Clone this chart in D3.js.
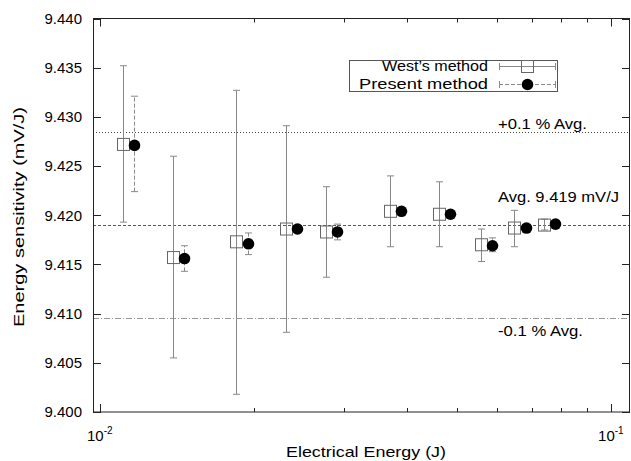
<!DOCTYPE html>
<html><head><meta charset="utf-8">
<script src="https://cdn.jsdelivr.net/npm/d3@7"></script>
<style>body{margin:0;background:#fff}svg{display:block;font-family:"Liberation Sans",Arial,sans-serif}</style>
</head><body><svg id="c" width="631" height="461"></svg>
<script>
const energy = [0.0111, 0.0139, 0.0185, 0.0231, 0.0277, 0.0369, 0.0461, 0.0556, 0.0647, 0.0739];
const westValue = [9.4272, 9.4157, 9.4173, 9.4186, 9.4183, 9.4204, 9.4201, 9.4170, 9.4187, 9.4190];
const westLow   = [9.4193, 9.4055, 9.4018, 9.4081, 9.4137, 9.4168, 9.4168, 9.4153, 9.4168, 9.4185];
const westHigh  = [9.4352, 9.4260, 9.4327, 9.4291, 9.4229, 9.4240, 9.4234, 9.4186, 9.4205, 9.4196];
const presentValue = [9.4271, 9.4156, 9.4171, 9.4186, 9.4183, 9.4204, 9.4201, 9.4169, 9.4187, 9.4191];
const presentLow   = [9.4224, 9.4143, 9.4160, 9.4183, 9.4175, 9.4201, 9.4198, 9.4163, 9.4184, 9.4189];
const presentHigh  = [9.4321, 9.4169, 9.4182, 9.4189, 9.4191, 9.4207, 9.4204, 9.4177, 9.4190, 9.4193];
const seriesNames = ["West\u2019s method", "Present method"];
const avgValue = 9.419;
const refLevels = [avgValue * 1.001, avgValue, avgValue * 0.999];
const refLabels = ["+0.1 % Avg.", "Avg. 9.419 mV/J", "-0.1 % Avg."];
const yTicks = [9.400, 9.405, 9.410, 9.415, 9.420, 9.425, 9.430, 9.435, 9.440];
const xMajor = [0.01, 0.1];
const xMinor = [0.02, 0.03, 0.04, 0.05, 0.06, 0.07, 0.08, 0.09];
const xDomain = [0.0097, 0.109];
const yDomain = [9.400, 9.440];

const svg = d3.select("#c");
const L = 93, R = 630, T = 18.5, B = 412;
const x = d3.scaleLog().domain(xDomain).range([L, R]);
const y = d3.scaleLinear().domain(yDomain).range([B, T]);
const presentShift = 1.053; // horizontal display offset of the present-method markers

// reference lines
const refStyles = [
  {dash: "1,2", color: "#444"},
  {dash: "3,2", color: "#555"},
  {dash: "6,2,1,2", color: "#999"}
];
svg.append("g").selectAll("line").data(refLevels).join("line")
  .attr("x1", L).attr("x2", R)
  .attr("y1", d => Math.round(y(d)) + 0.5).attr("y2", d => Math.round(y(d)) + 0.5)
  .attr("stroke", (d, i) => refStyles[i].color)
  .attr("stroke-dasharray", (d, i) => refStyles[i].dash)
  .attr("stroke-width", 1);

const refPos = [{x: 498, w: 89, dy: 5.5}, {x: 498, w: 121, dy: -28.5}, {x: 498, w: 85, dy: 18}];
svg.append("g").selectAll("text").data(refLevels).join("text")
  .attr("x", (d, i) => refPos[i].x)
  .attr("y", (d, i) => [y(d) - 3.8, y(d) - 23.3, y(d) + 18][i])
  .attr("font-size", 15.5)
  .attr("textLength", (d, i) => refPos[i].w)
  .attr("lengthAdjust", "spacingAndGlyphs")
  .text((d, i) => refLabels[i]);

// axes frame
const axG = svg.append("g").attr("stroke", "#222").attr("stroke-width", 1).attr("fill", "none");
axG.append("rect").attr("x", L + 0.5).attr("y", T).attr("width", R - L - 1).attr("height", B - T);

// y ticks (left & right, inward)
yTicks.forEach(v => {
  const yy = Math.round(y(v)) + 0.5;
  axG.append("line").attr("x1", L).attr("x2", L + 8).attr("y1", yy).attr("y2", yy);
  axG.append("line").attr("x1", R - 8).attr("x2", R).attr("y1", yy).attr("y2", yy);
});
svg.append("g").selectAll("text").data(yTicks).join("text")
  .attr("x", 82).attr("y", d => y(d)).attr("dy", "0.35em")
  .attr("text-anchor", "end").attr("font-size", 15)
  .text(d => d3.format(".3f")(d));

// x ticks (bottom & top, inward)
xMajor.concat(xMinor).forEach(v => {
  const len = xMajor.includes(v) ? 8 : 4;
  const xx = Math.round(x(v)) + 0.5;
  axG.append("line").attr("x1", xx).attr("x2", xx).attr("y1", B).attr("y2", B - len);
  axG.append("line").attr("x1", xx).attr("x2", xx).attr("y1", T).attr("y2", T + len);
});
xMajor.forEach(v => {
  const t = svg.append("text").attr("x", x(v)).attr("y", 441).attr("text-anchor", "middle").attr("font-size", 15);
  t.append("tspan").text("10");
  t.append("tspan").attr("font-size", 10).attr("dy", -7).text(String(Math.round(Math.log10(v))));
});

// axis titles
svg.append("text").attr("transform", "translate(24,217) rotate(-90)")
  .attr("text-anchor", "middle").attr("font-size", 15)
  .attr("textLength", 220).attr("lengthAdjust", "spacingAndGlyphs")
  .text("Energy sensitivity (mV/J)");
svg.append("text").attr("x", 366).attr("y", 457)
  .attr("text-anchor", "middle").attr("font-size", 15)
  .attr("textLength", 160).attr("lengthAdjust", "spacingAndGlyphs")
  .text("Electrical Energy (J)");

// West's method error bars
const barColor = "#888";
const cap = 3.5;
const west = svg.append("g");
energy.forEach((e, i) => {
  const xx = Math.round(x(e)) + 0.5;
  west.append("line").attr("x1", xx).attr("x2", xx).attr("y1", y(westLow[i])).attr("y2", y(westHigh[i])).attr("stroke", barColor);
  [westLow[i], westHigh[i]].forEach(v => west.append("line").attr("x1", xx - cap).attr("x2", xx + cap)
    .attr("y1", y(v)).attr("y2", y(v)).attr("stroke", barColor));
  west.append("rect").attr("x", xx - 6).attr("y", y(westValue[i]) - 6).attr("width", 12).attr("height", 12)
    .attr("fill", "none").attr("stroke", "#666").attr("stroke-width", 1);
});

// Present method
const pres = svg.append("g");
energy.forEach((e, i) => {
  const xx = Math.round(x(e * presentShift)) + 0.5;
  pres.append("line").attr("x1", xx).attr("x2", xx).attr("y1", y(presentLow[i])).attr("y2", y(presentHigh[i]))
    .attr("stroke", barColor).attr("stroke-dasharray", "4,2");
  [presentLow[i], presentHigh[i]].forEach(v => pres.append("line").attr("x1", xx - cap).attr("x2", xx + cap)
    .attr("y1", y(v)).attr("y2", y(v)).attr("stroke", barColor));
  pres.append("circle").attr("cx", xx).attr("cy", y(presentValue[i])).attr("r", 5.8).attr("fill", "#000");
});

// legend
const lg = svg.append("g");
lg.append("rect").attr("x", 349.5).attr("y", 60.5).attr("width", 208).attr("height", 31)
  .attr("fill", "#fff").attr("stroke", "#555");
const rowY = [66, 83.5];
const txtW = [106, 129];
seriesNames.forEach((n, i) => {
  lg.append("text").attr("x", 488).attr("y", rowY[i] + 5.3).attr("text-anchor", "end")
    .attr("font-size", 15).attr("textLength", txtW[i]).attr("lengthAdjust", "spacingAndGlyphs").text(n);
  const ly = Math.round(rowY[i]) + 0.5;
  lg.append("line").attr("x1", 499).attr("x2", 555).attr("y1", ly).attr("y2", ly)
    .attr("stroke", barColor).attr("stroke-dasharray", i ? "4,2" : null);
  [499, 555].forEach(px => lg.append("line").attr("x1", px + 0.5).attr("x2", px + 0.5)
    .attr("y1", ly - cap).attr("y2", ly + cap).attr("stroke", barColor));
  if (i === 0) lg.append("rect").attr("x", 527.5 - 6).attr("y", ly - 6).attr("width", 12).attr("height", 12)
    .attr("fill", "none").attr("stroke", "#666");
  else lg.append("circle").attr("cx", 527.5).attr("cy", ly).attr("r", 5.8).attr("fill", "#000");
});
</script></body></html>
